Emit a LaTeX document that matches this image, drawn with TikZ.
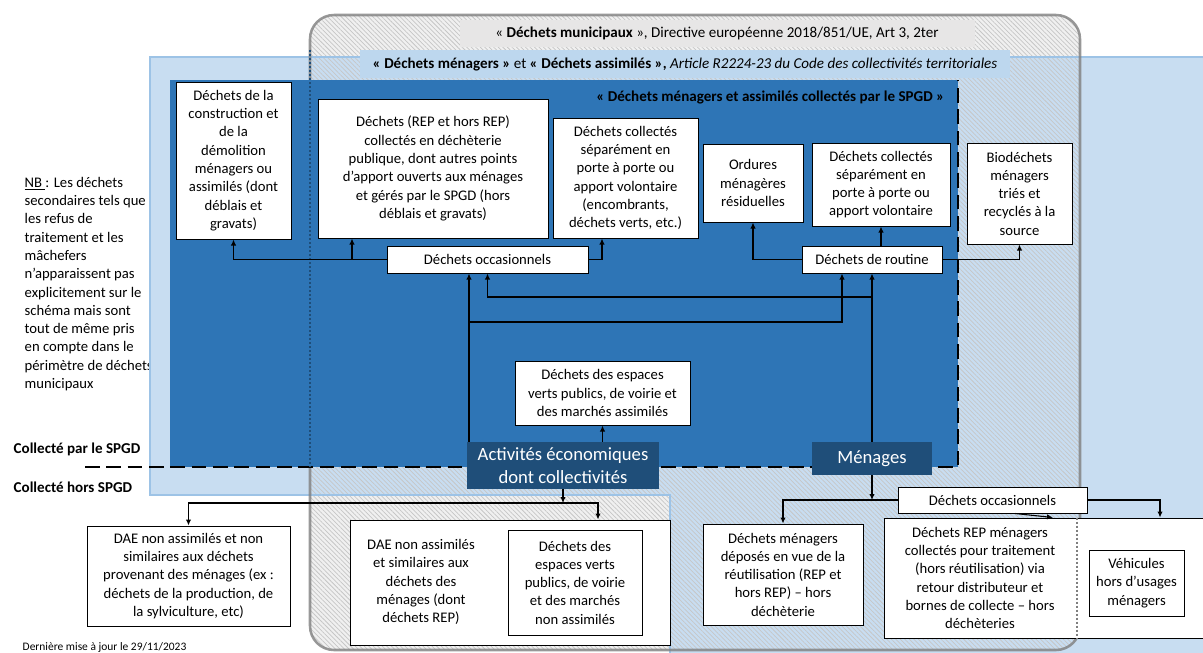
\documentclass[tikz,border=0pt]{standalone}
\usepackage{fontspec}
\setmainfont{Carlito}
\usetikzlibrary{arrows.meta,patterns.meta}

\definecolor{spgdblue}{HTML}{2E75B6}
\definecolor{navy}{HTML}{1F4E79}
\definecolor{paleblue}{HTML}{C8DDF1}
\definecolor{paleedge}{HTML}{9DC3E6}
\definecolor{bandblue}{HTML}{BDD7EE}
\definecolor{bandgray}{HTML}{E7E6E6}
\definecolor{muniedge}{HTML}{7F7F7F}

\begin{document}
\begin{tikzpicture}[
  x=0.75pt, y=-0.75pt,
  txt/.style={font=\fontsize{11}{13.7}\selectfont},
  headline/.style={font=\fontsize{11.3}{13.7}\selectfont},
  box/.style={txt, draw=black, line width=0.75pt, fill=white, align=center, inner sep=1pt},
  actor/.style={fill=navy, text=white, align=center, font=\fontsize{14}{17.2}\selectfont, inner sep=0pt},
  arr/.style={-{Latex[length=4.5pt,width=4pt]}, line width=0.8pt},
  hatch/.style={pattern={Lines[angle=-45, distance=2.4pt, line width=0.55pt]}, pattern color=gray!45},
  spgdline/.style={line width=2.2pt, dash pattern=on 11pt off 5pt}
]
\useasboundingbox (0,0) rectangle (1203,653);

\node [txt, align=left, anchor=west] (nbnote) at (20,284) {\underline{NB }: Les déchets\\secondaires tels que\\les refus de\\traitement et les\\mâchefers\\n’apparaissent pas\\explicitement sur le\\schéma mais sont\\tout de même pris\\en compte dans le\\périmètre de déchets\\municipaux};

% perimetres
\path [fill=gray!12, rounded corners=18pt] (310,15) rectangle (1080,650);
\fill [paleblue] (150,57) -- (1203,57) -- (1203,653) -- (670,653) -- (670,495) -- (150,495) -- cycle;
\path [hatch, rounded corners=18pt] (310,15) rectangle (1080,650);
\draw [paleedge, line width=1.5pt] (1203,57) -- (150,57) -- (150,495) -- (670,495) -- (670,653);
\draw [muniedge, draw opacity=0.8, line width=1.9pt, rounded corners=18pt] (310,15) rectangle (1080,650);

\fill [bandgray] (460,20) rectangle (975,47);
\node [headline] (munititle) at (717,33) {« \textbf{Déchets municipaux} », Directive européenne 2018/851/UE, Art 3, 2ter};
\fill [bandblue] (360,50) rectangle (1010,78);
\node [headline] (dmatitle) at (685,64) {\textbf{« Déchets ménagers »} et \textbf{« Déchets assimilés »,} \textit{Article R2224-23 du Code des collectivités territoriales}};

\fill [spgdblue] (170,80) rectangle (958,467);
\draw [spgdline] (85,467) -- (958,467) -- (958,80);
\draw [navy, line width=1.5pt, dash pattern=on 1.5pt off 1.5pt] (310,50) -- (310,467);
\node [headline, anchor=east] (spgdtitle) at (949,97) {\textbf{« Déchets ménagers et assimilés collectés par le SPGD »}};

\node [headline, anchor=west] (colpar) at (9,449) {\textbf{Collecté par le SPGD}};
\node [headline, anchor=west] (colhors) at (9,487) {\textbf{Collecté hors SPGD}};
\node [anchor=west, font=\fontsize{8.6}{10}\selectfont] (maj) at (18,647) {Dernière mise à jour le 29/11/2023};

% collecte par le SPGD
\node [box, minimum width=86.25pt, minimum height=117.75pt] (cdem) at (233.5,160.5) {Déchets de la\\construction et\\de la\\démolition\\ménagers ou\\assimilés (dont\\déblais et\\gravats)};
\node [box, minimum width=172.5pt, minimum height=104.25pt] (dept) at (433,168.5) {Déchets (REP et hors REP)\\collectés en déchèterie\\publique, dont autres points\\d’apport ouverts aux ménages\\et gérés par le SPGD (hors\\déblais et gravats)};
\node [box, minimum width=108.75pt, minimum height=90pt] (sepa) at (625.5,178) {Déchets collectés\\séparément en\\porte à porte ou\\apport volontaire\\(encombrants,\\déchets verts, etc.)};
\node [box, minimum width=75pt, minimum height=58.5pt] (omr) at (753,183) {Ordures\\ménagères\\résiduelles};
\node [box, minimum width=103.5pt, minimum height=62.25pt] (sepb) at (881,184.5) {Déchets collectés\\séparément en\\porte à porte ou\\apport volontaire};
\node [box, minimum width=78.75pt, minimum height=75.75pt] (biod) at (1019.5,193.5) {Biodéchets\\ménagers\\triés et\\recyclés à la\\source};
\node [box, minimum width=150.75pt, minimum height=20.25pt] (occa) at (487.5,259.5) {Déchets occasionnels};
\node [box, minimum width=105pt, minimum height=20.25pt] (routine) at (872,259.5) {Déchets de routine};
\node [box, minimum width=131.25pt, minimum height=48pt] (espv) at (602.5,393) {Déchets des espaces\\verts publics, de voirie et\\des marchés assimilés};
\node [actor, minimum width=144pt, minimum height=35.25pt] (acteco) at (563,465.5) {Activités économiques\\dont collectivités};
\node [actor, minimum width=90pt, minimum height=24.75pt] (menages) at (872,458.5) {Ménages};

% collecte hors SPGD
\node [box, minimum width=152.25pt, minimum height=75pt] (daeext) at (188.5,576) {DAE non assimilés et non\\similaires aux déchets\\provenant des ménages (ex :\\déchets de la production, de\\la sylviculture, etc)};
\node [box, minimum width=240pt, minimum height=93.75pt] (daesim) at (510,582.5) {};
\node [txt, align=center] (daesimtxt) at (421,582) {DAE non assimilés\\et similaires aux\\déchets des\\ménages (dont\\déchets REP)};
\node [box, minimum width=100.5pt, minimum height=78.75pt] (espvn) at (575,582.5) {Déchets des\\espaces verts\\publics, de voirie\\et des marchés\\non assimilés};
\node [box, minimum width=141.75pt, minimum height=19.5pt] (occb) at (992.5,500) {Déchets occasionnels};
\node [box, minimum width=120pt, minimum height=75.75pt] (reuse) at (783,574.5) {Déchets ménagers\\déposés en vue de la\\réutilisation (REP et\\hors REP) – hors\\déchèterie};
\node [box, minimum width=244.5pt, minimum height=90pt] (repbox) at (1047,578) {};
\node [txt, align=center] (reptxt) at (980,578) {Déchets REP ménagers\\collectés pour traitement\\(hors réutilisation) via\\retour distributeur et\\bornes de collecte – hors\\déchèteries};
\node [box, minimum width=71.25pt, minimum height=49.5pt] (vhu) at (1136.5,583) {Véhicules\\hors d’usages\\ménagers};
\draw [muniedge, line width=1.5pt, dash pattern=on 1.5pt off 1.5pt] (repbox.north -| 1077,0) -- (repbox.south -| 1077,0);

\coordinate (jact) at (469,322);
\coordinate (jmen) at (872,297);
\coordinate (jdae) at (563,503);
\coordinate (jmenb) at (872,500);

\draw [arr] (occa.west) -| (cdem.south);
\draw [arr] (occa.west -| 352,0) -- (dept.south -| 352,0);
\draw [arr] (occa.east) -| (sepa.south -| 602,0);
\draw [arr] (routine.west) -| (omr.south);
\draw [arr] (routine.north -| sepb.south) -- (sepb.south);
\draw [arr] (routine.east) -| (biod.south);

\draw [arr] (menages.north) -- (routine.south);
\draw [arr] (jmen) -| (occa.south);
\draw [arr] (acteco.north -| 469,0) -- (occa.south -| 469,0);
\draw [arr] (jact) -| (routine.south -| 842,0);
\draw [arr] (acteco.north -| espv.south) -- (espv.south);

\draw [arr] (acteco.south) -- (jdae);
\draw [arr] (jdae) -| (daeext.north);
\draw [arr] (jdae) -| (daesim.north -| 598,0);
\draw [arr] (menages.south) -- (jmenb);
\draw [arr] (occb.west) -| (reuse.north);
\draw [arr] (occb.south -| 1015,0) -- (repbox.north -| 1053,0);
\draw [arr] (occb.east) -| (repbox.north -| 1160,0);
\end{tikzpicture}
\end{document}
